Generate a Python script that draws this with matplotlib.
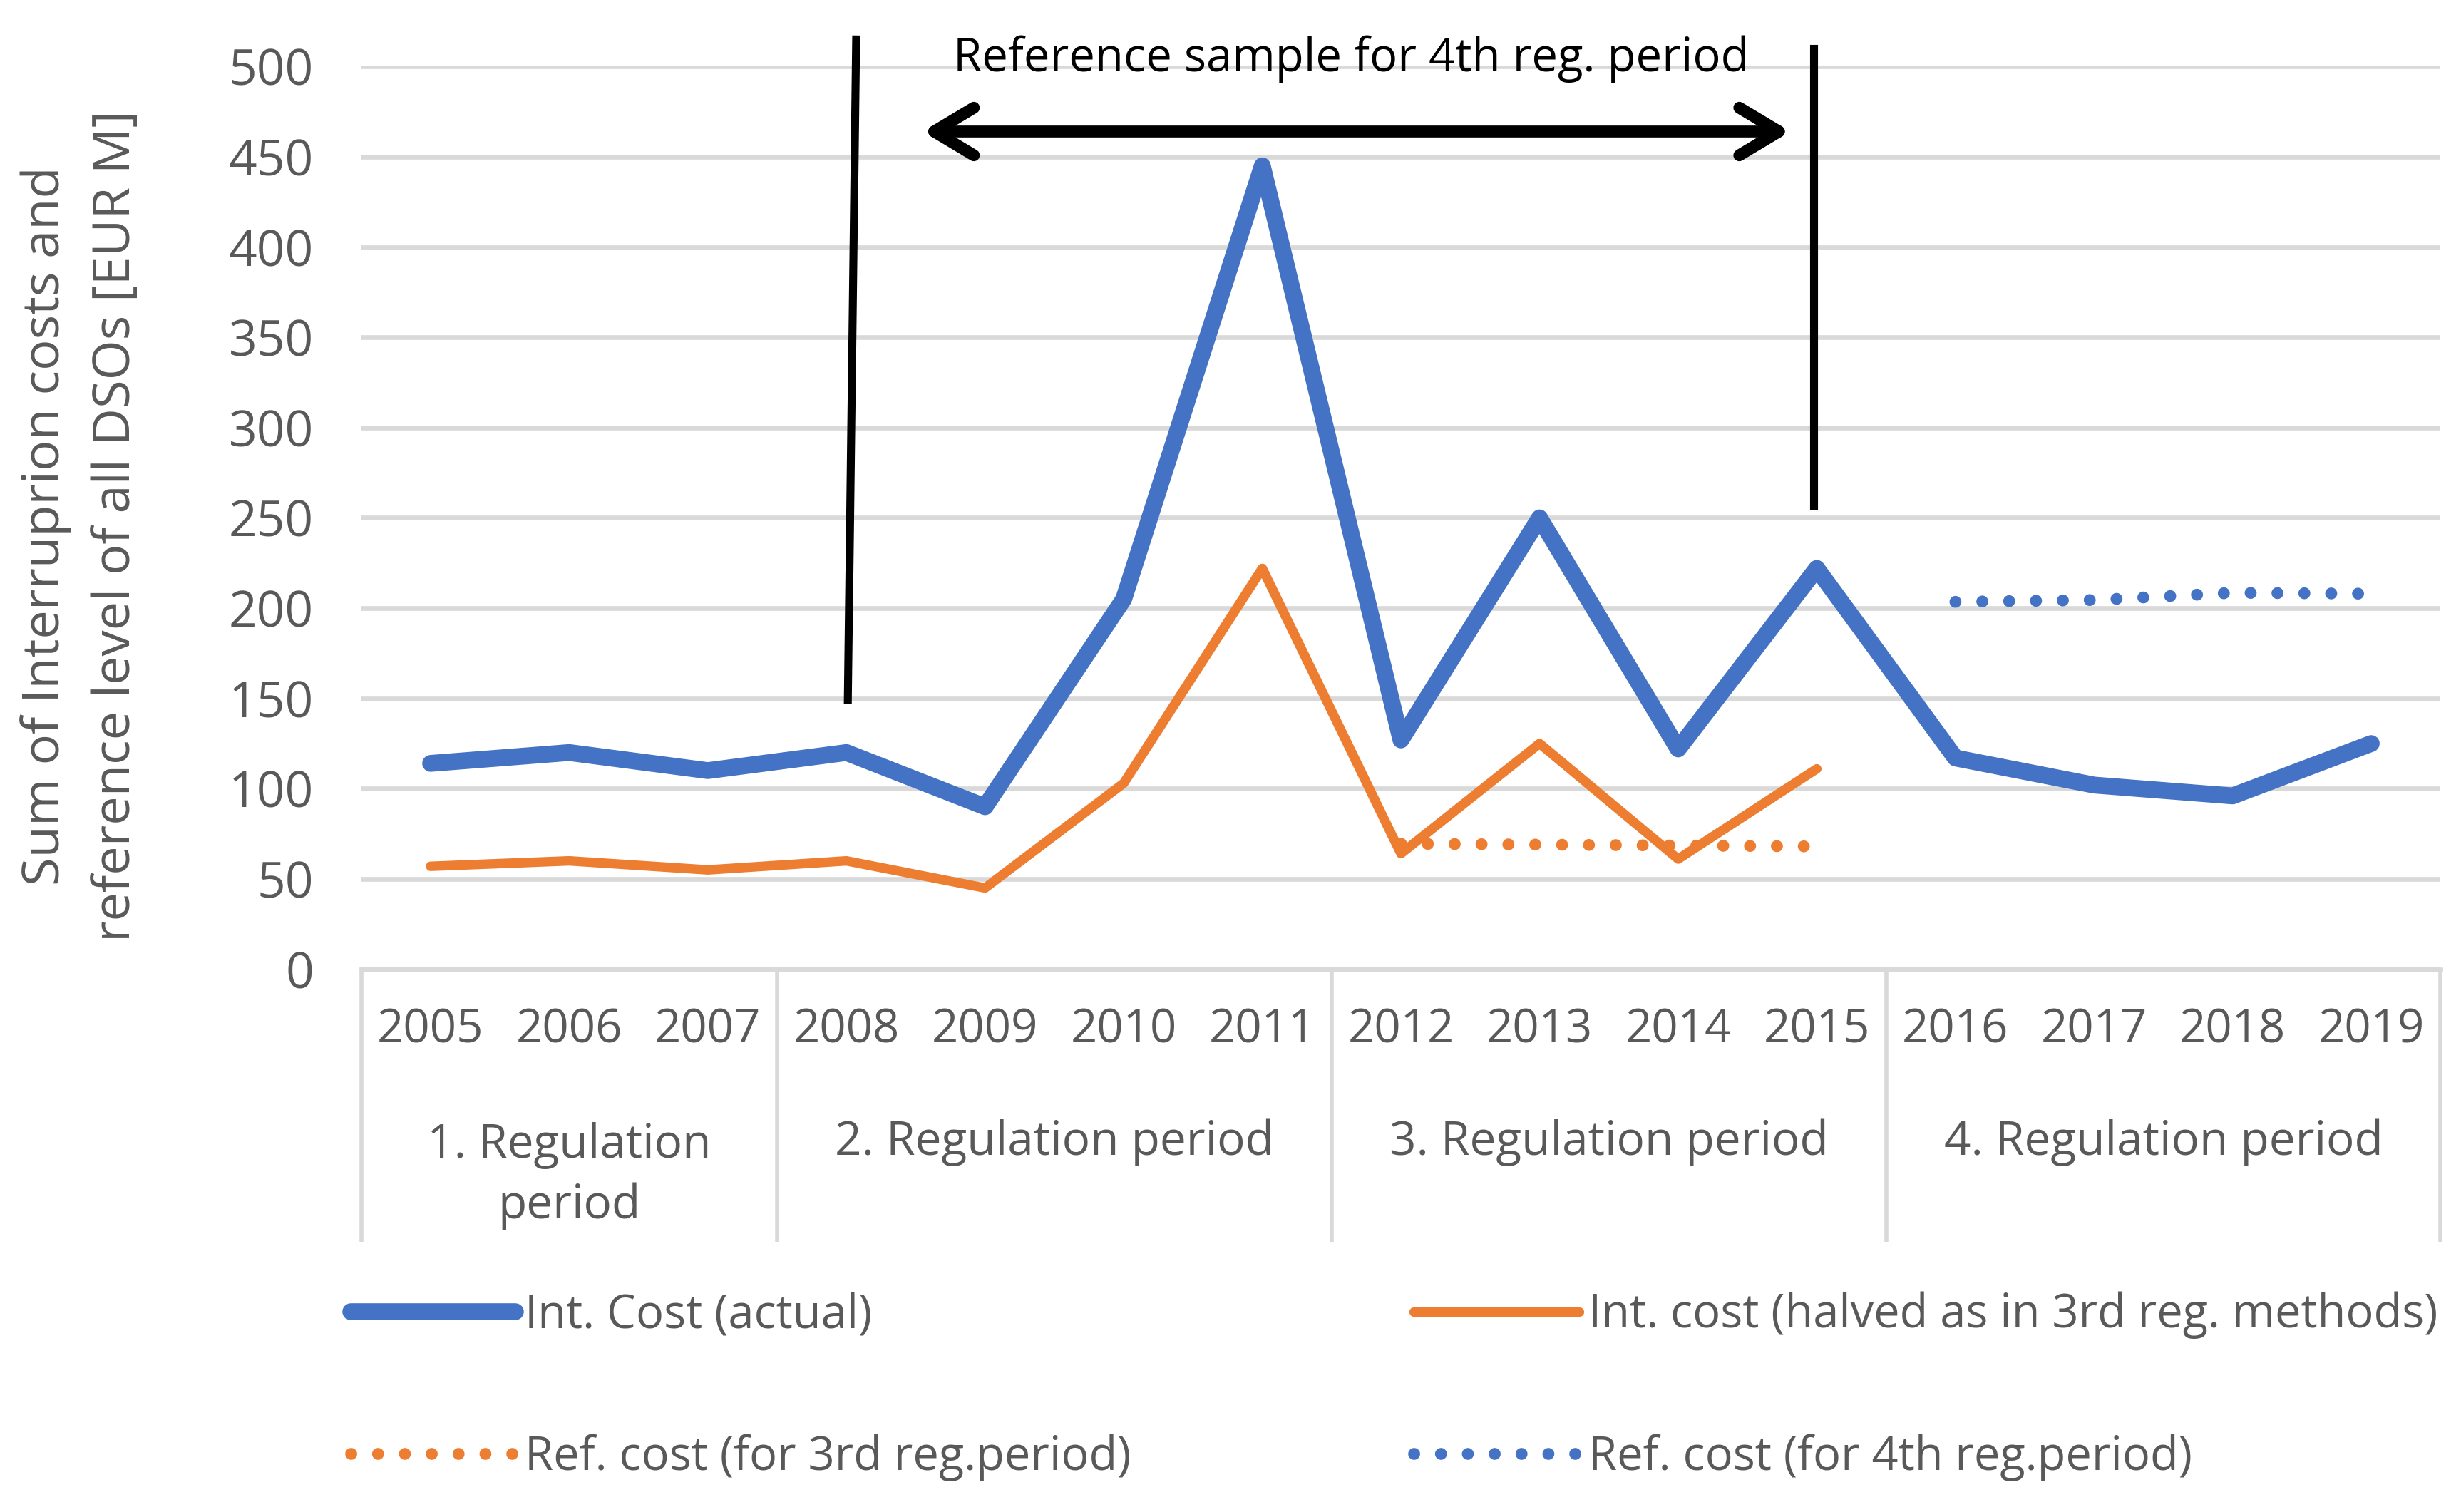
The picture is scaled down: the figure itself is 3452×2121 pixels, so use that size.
import matplotlib
matplotlib.use("Agg")
import matplotlib.pyplot as plt
from matplotlib.patches import FancyArrowPatch
import numpy as np

years = [str(y) for y in range(2005, 2020)]
periods = ["1. Regulation\nperiod", "2. Regulation period", "3. Regulation period", "4. Regulation period"]
period_sizes = [3, 4, 4, 4]

int_cost = [114, 120, 110, 120, 90, 205, 445, 127, 250, 122, 222, 117, 102, 96, 125]
int_cost_half = [57, 60, 55, 60, 45, 103, 222, 64, 125, 61, 111]
ref_cost_3rd = [69.5, 69, 68.5, 68]      # 2012-2015
ref_cost_4th = [203.5, 204.5, 208.5, 208]  # 2016-2019

BLUE = "#4472C4"
ORANGE = "#ED7D31"
GRID = "#D9D9D9"
TXT = "#595959"

plt.rcParams['font.family'] = ['Open Sans', 'DejaVu Sans']

fig = plt.figure(figsize=(17.26, 10.605), dpi=200)
ax = fig.add_axes([0.1468, 0.359, 0.8449, 0.597])

x = np.arange(len(years))
l1, = ax.plot(x, int_cost, color=BLUE, lw=8.5, solid_capstyle='round', solid_joinstyle='round',
              label="Int. Cost (actual)", zorder=4)
l2, = ax.plot(x[:len(int_cost_half)], int_cost_half, color=ORANGE, lw=4.8, solid_capstyle='round',
              solid_joinstyle='round', label="Int. cost (halved as in 3rd reg. methods)", zorder=4)
l3, = ax.plot(x[7:11], ref_cost_3rd, color=ORANGE, lw=6, linestyle=(0, (0.01, 2.25)),
              dash_capstyle='round', label="Ref. cost (for 3rd reg.period)", zorder=3)
l4, = ax.plot(x[11:15], ref_cost_4th, color=BLUE, lw=6, linestyle=(0, (0.01, 2.25)),
              dash_capstyle='round', label="Ref. cost (for 4th reg.period)", zorder=3)

ax.set_xlim(-0.5, len(years) - 0.5)
ax.set_ylim(0, 500)
ax.set_yticks(range(0, 501, 50))
ax.yaxis.grid(True, color=GRID, lw=2.4)
ax.set_axisbelow(True)
for s in ["top", "right", "left"]:
    ax.spines[s].set_visible(False)
ax.spines["bottom"].set_color(GRID)
ax.spines["bottom"].set_linewidth(2.4)
ax.tick_params(axis='y', length=0, pad=24, labelsize=25, labelcolor=TXT)
ax.set_xticks(x, years)
ax.tick_params(axis='x', length=0, pad=19, labelsize=23.5, labelcolor=TXT)

# category groups
tr = ax.get_xaxis_transform()
bounds = np.concatenate([[0], np.cumsum(period_sizes)]) - 0.5
ax.vlines(bounds, -0.302, 0, transform=tr, color=GRID, lw=2, clip_on=False)
for i, lab in enumerate(periods):
    cx = (bounds[i] + bounds[i + 1]) / 2
    cy = -0.229 if "\n" in lab else -0.192
    ax.text(cx, cy, lab, transform=tr, ha='center', va='center', fontsize=23.7, color=TXT,
            linespacing=1.35)

# annotation: reference sample
ax.plot([3.07, 3.01], [515, 149], color='black', lw=4, clip_on=False, zorder=5)
ax.plot([9.98, 9.98], [510, 257], color='black', lw=4, clip_on=False, zorder=5)
arr = FancyArrowPatch((3.55, 464), (9.81, 464), arrowstyle='<->,head_length=20,head_width=12',
                      mutation_scale=1, color='black', lw=6, shrinkA=0, shrinkB=0,
                      clip_on=False, zorder=5)
ax.add_patch(arr)
ax.text(6.64, 504, "Reference sample for 4th reg. period", ha='center', va='center',
        fontsize=23.5, color='black', zorder=6)

fig.text(0.033, 0.652, "Sum of Interruprion costs and\nreference level of all DSOs [EUR M]",
         rotation=90, ha='center', va='center', fontsize=26, color=TXT, linespacing=1.5)

fig.legend([l1, l3, l2, l4], [l1.get_label(), l3.get_label(), l2.get_label(), l4.get_label()],
           loc='upper left', bbox_to_anchor=(0.135, 0.158), ncol=2, frameon=False,
           fontsize=23.4, labelcolor=TXT, handlelength=3.56, handletextpad=0.2,
           columnspacing=6.1, labelspacing=2.05, borderaxespad=0)

fig.savefig("out.png", dpi=200)
